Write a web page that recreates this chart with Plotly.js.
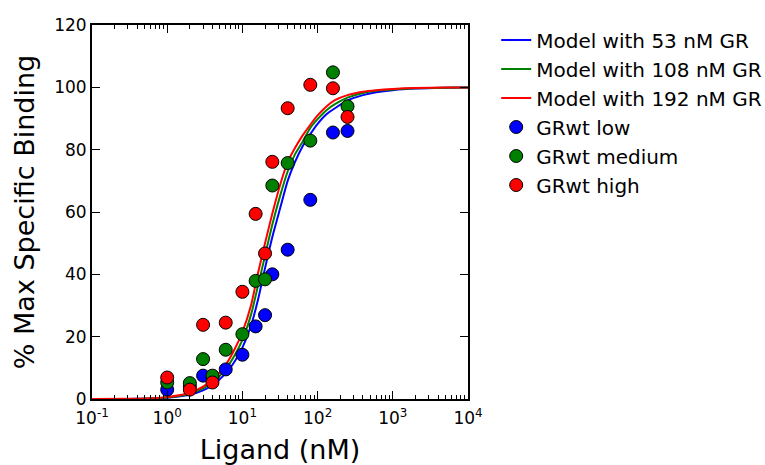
<!DOCTYPE html>
<html>
<head>
<meta charset="utf-8">
<script src="https://cdn.plot.ly/plotly-3.0.1.min.js"></script>
<style>body{margin:0;padding:0;background:#fff;} #chart{width:765px;height:465px;}</style>
</head>
<body>
<div id="chart"></div>
<script>
// Measured data points
var ligandConc = [1, 2, 3, 4, 6, 10, 15, 20, 25, 40, 80, 160, 250];
var grwtLow    = [3.0, 4.0, 7.5, 7.0, 9.5, 14.2, 23.3, 26.9, 40.0, 47.9, 63.9, 85.5, 86.0];
var grwtMedium = [5.3, 5.1, 12.8, 7.5, 15.8, 20.8, 37.9, 38.4, 68.5, 75.7, 82.9, 104.8, 93.9];
var grwtHigh   = [6.9, 3.0, 23.8, 5.3, 24.5, 34.4, 59.4, 46.7, 76.1, 93.3, 100.8, 99.7, 90.5];

// Model curves
var modelX    = [0.1, 0.3, 0.5, 1, 2, 3, 4, 6, 8, 10, 13, 16, 20, 25, 32, 40, 50, 63, 80, 100, 130, 170, 250, 400, 600, 1000, 2000, 5000, 10000];
var model53   = [0, 0.03, 0.1, 0.4, 1.4, 2.8, 4.4, 8.2, 12.3, 16.5, 23.5, 31.5, 42, 52, 61.5, 70, 76, 81, 85, 88.3, 91.3, 93.3, 95.8, 97.5, 98.4, 99.1, 99.6, 99.85, 99.95];
var model108  = [0, 0.04, 0.12, 0.5, 1.7, 3.4, 5.3, 9.6, 14.3, 19, 27, 36, 46, 56, 65.5, 73, 78.5, 82.5, 87, 89.8, 92.6, 94.6, 96.7, 98.2, 98.9, 99.3, 99.7, 99.9, 99.97];
var model192  = [0, 0.05, 0.15, 0.6, 2.0, 4.0, 6.2, 11, 16.3, 21.5, 30, 40, 50, 59.5, 69, 76, 80.5, 84.5, 88, 91, 93.8, 95.9, 97.5, 98.6, 99.1, 99.5, 99.8, 99.93, 99.98];

var xTickVals = [0.1, 1, 10, 100, 1000, 10000];
var xTickText = ['10<sup>-1</sup>', '10<sup>0</sup>', '10<sup>1</sup>', '10<sup>2</sup>', '10<sup>3</sup>', '10<sup>4</sup>'];

var FONT = 'DejaVu Sans, Liberation Sans, sans-serif';

function model(name, y, color) {
  return {x: modelX, y: y, type: 'scatter', mode: 'lines', name: name,
    line: {color: color, width: 2, shape: 'spline', smoothing: 0.6}};
}
function pts(name, y, color) {
  return {x: ligandConc, y: y, type: 'scatter', mode: 'markers', name: name,
    marker: {color: color, size: 13, line: {color: '#000', width: 1}}};
}

var traces = [
  model('Model with 53 nM GR', model53, '#0000ff'),
  model('Model with 108 nM GR', model108, '#008000'),
  model('Model with 192 nM GR', model192, '#ff0000'),
  pts('GRwt low', grwtLow, '#0000ff'),
  pts('GRwt medium', grwtMedium, '#008000'),
  pts('GRwt high', grwtHigh, '#ff0000')
];

var layout = {
  width: 765, height: 465,
  margin: {l: 92, r: 297, t: 25, b: 66, autoexpand: false},
  paper_bgcolor: '#fff', plot_bgcolor: '#fff',
  font: {family: FONT, color: '#000', size: 17},
  showlegend: true,
  legend: {x: 1.075, y: 1.012, xanchor: 'left', yanchor: 'top',
    font: {family: FONT, size: 20, color: '#000'},
    bgcolor: 'rgba(0,0,0,0)', tracegroupgap: 3, traceorder: 'normal'},
  xaxis: {type: 'log', range: [-1, 4],
    tickmode: 'array', tickvals: xTickVals, ticktext: xTickText,
    ticks: 'inside', ticklen: 8, tickwidth: 1, tickcolor: '#000',
    minor: {ticks: 'inside', ticklen: 4, tickwidth: 1, tickcolor: '#000', dtick: 'D1', showgrid: false},
    showline: true, linecolor: '#000', linewidth: 2, mirror: 'ticks',
    showgrid: false, zeroline: false, automargin: false, ticklabelstandoff: 3,
    tickfont: {family: FONT, size: 17, color: '#000'},
    title: {text: 'Ligand (nM)', font: {family: FONT, size: 27, color: '#000'}, standoff: 18}},
  yaxis: {range: [0, 120], tickmode: 'linear', tick0: 0, dtick: 20,
    ticks: 'inside', ticklen: 8, tickwidth: 1, tickcolor: '#000',
    showline: true, linecolor: '#000', linewidth: 2, mirror: 'ticks',
    showgrid: false, zeroline: false, automargin: false,
    tickfont: {family: FONT, size: 17, color: '#000'},
    title: {text: '% Max Specific Binding', font: {family: FONT, size: 27, color: '#000'}, standoff: 12}}
};

Plotly.newPlot('chart', traces, layout, {displayModeBar: false, staticPlot: true});
</script>
</body>
</html>
